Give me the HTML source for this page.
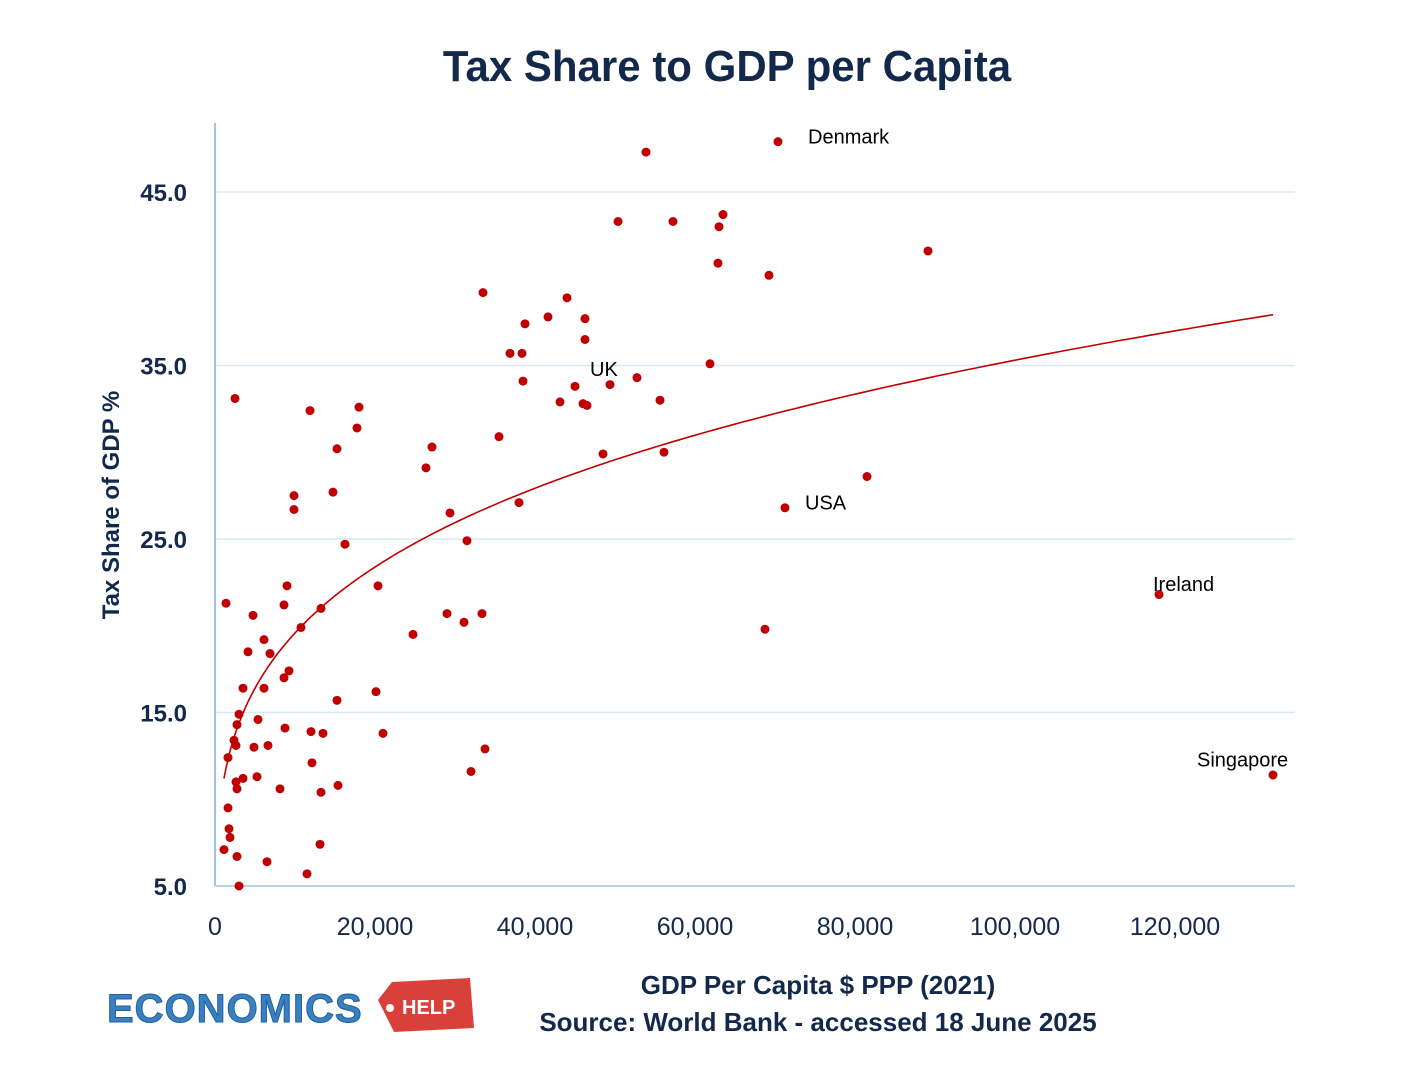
<!DOCTYPE html>
<html><head><meta charset="utf-8">
<style>
body{margin:0;background:#fff;width:1418px;height:1080px;overflow:hidden;font-family:"Liberation Sans",sans-serif;}
</style></head>
<body>
<svg id="chart" width="1418" height="1080" xmlns="http://www.w3.org/2000/svg">
<text x="727" y="81" text-anchor="middle" font-size="44" font-weight="bold" fill="#13294b" font-family="Liberation Sans, sans-serif" transform="translate(727 0) scale(0.955 1) translate(-727 0)">Tax Share to GDP per Capita</text>
<g id="grid"></g>
<g id="axes"></g>
<g id="trend"></g>
<g id="points"></g>
<g id="labels"></g>
<text transform="translate(119 505) rotate(-90)" text-anchor="middle" font-size="24" font-weight="bold" fill="#13294b">Tax Share of GDP %</text>
<text x="818" y="994" text-anchor="middle" font-size="26" font-weight="bold" fill="#13294b">GDP Per Capita $ PPP (2021)</text>
<text x="818" y="1031" text-anchor="middle" font-size="26" font-weight="bold" fill="#13294b">Source: World Bank - accessed 18 June 2025</text>
<g>
<text x="107" y="1022" font-size="40" font-weight="bold" fill="#3a7fc0" stroke="#1f5f9e" stroke-width="1" letter-spacing="1">ECONOMICS</text>
<path d="M378 1000 L392 982 L470 978 L474 1028 L394 1032 Z" fill="#d9403a"/>
<circle cx="390" cy="1008" r="4" fill="#fff"/>
<text x="402" y="1014" font-size="20" font-weight="bold" fill="#fff">HELP</text>
</g>
</svg>
<script>
const gdp=[70375,53875,50375,57250,63500,63000,62875,69250,89125,33500,44000,41625,38750,46250,46250,36875,38375,38500,45000,49375,52750,61875,43125,46000,46500,55625,35500,48500,56125,27125,26375,38000,29375,31500,81500,71250,118000,132250,68750,24750,29000,31125,33375,33750,32000,20375,20125,21000,18000,17750,15250,14750,16250,9875,9875,13250,9000,8625,10750,9250,8625,15250,12000,13500,12125,13250,15375,13125,11500,2500,11875,1375,4750,6125,4125,6875,3500,6125,3000,2750,5375,2375,2625,4875,6625,8750,1625,2625,3500,5250,2750,8125,1625,1750,1875,1125,2750,6500,3000];
const tax=[47.9,47.3,43.3,43.3,43.7,43.0,40.9,40.2,41.6,39.2,38.9,37.8,37.4,37.7,36.5,35.7,35.7,34.1,33.8,33.9,34.3,35.1,32.9,32.8,32.7,33.0,30.9,29.9,30.0,30.3,29.1,27.1,26.5,24.9,28.6,26.8,21.8,11.4,19.8,19.5,20.7,20.2,20.7,12.9,11.6,22.3,16.2,13.8,32.6,31.4,30.2,27.7,24.7,27.5,26.7,21.0,22.3,21.2,19.9,17.4,17.0,15.7,13.9,13.8,12.1,10.4,10.8,7.4,5.7,33.1,32.4,21.3,20.6,19.2,18.5,18.4,16.4,16.4,14.9,14.3,14.6,13.4,13.1,13.0,13.1,14.1,12.4,11.0,11.2,11.3,10.6,10.6,9.5,8.3,7.8,7.1,6.7,6.4,5.0];
const yTicks=[5,15,25,35,45];
const xTicks=[0,20000,40000,60000,80000,100000,120000];
const xTickLabels=["0","20,000","40,000","60,000","80,000","100,000","120,000"];
const yTickLabels=["5.0","15.0","25.0","35.0","45.0"];
const trendCoef=[1.853,0.256];
const labelNames=["Denmark","UK","USA","Ireland","Singapore"];
const labelX=[74125,46875,73750,117250,122750];
const labelY=[47.8,34.4,26.7,22.0,11.9];

const NS="http://www.w3.org/2000/svg";
const X=v=>215+v*0.008;
const Y=v=>886-(v-5)*17.35;
function mk(tag,attrs,parent){const e=document.createElementNS(NS,tag);for(const k in attrs)e.setAttribute(k,attrs[k]);document.getElementById(parent).appendChild(e);return e;}

yTicks.forEach((t,i)=>{
  if(t>5){const g=mk('line',{x1:215,x2:1295,y1:Y(t),y2:Y(t),stroke:'#dbe8f4','stroke-width':1.5},'grid');
  
  }
  const l=mk('text',{x:187,y:Y(t)+9,'text-anchor':'end','font-size':24,'font-weight':'bold',fill:'#13294b'},'axes');
  l.textContent=yTickLabels[i];
  
  
});
const ax=mk('line',{x1:215,x2:215,y1:123,y2:886,stroke:'#9dc3e6','stroke-width':2},'axes');


const bx=mk('line',{x1:215,x2:1295,y1:886,y2:886,stroke:'#b8d3ec','stroke-width':2},'axes');


xTicks.forEach((t,i)=>{
  const l=mk('text',{x:X(t),y:935,'text-anchor':'middle','font-size':25,fill:'#13294b'},'axes');
  l.textContent=xTickLabels[i];
  
  
});
// power trendline
const xmin=Math.min(...gdp),xmax=Math.max(...gdp);
let d='';
for(let k=0;k<=300;k++){const x=xmin*Math.pow(xmax/xmin,k/300);const y=trendCoef[0]*Math.pow(x,trendCoef[1]);d+=(k?'L':'M')+X(x).toFixed(1)+' '+Y(y).toFixed(1);}
const tr=mk('path',{d:d,fill:'none',stroke:'#c00000','stroke-width':1.6},'trend');


for(let i=0;i<gdp.length;i++){
  const c=mk('circle',{cx:X(gdp[i]),cy:Y(tax[i]),r:4.5,fill:'#c00000'},'points');
  
  
}
labelNames.forEach((s,i)=>{
  const t=mk('text',{x:X(labelX[i]),y:Y(labelY[i]),'text-anchor':'start','font-size':20,fill:'#000'},'labels');
  t.textContent=s;
  
  
});
</script>
</body></html>
